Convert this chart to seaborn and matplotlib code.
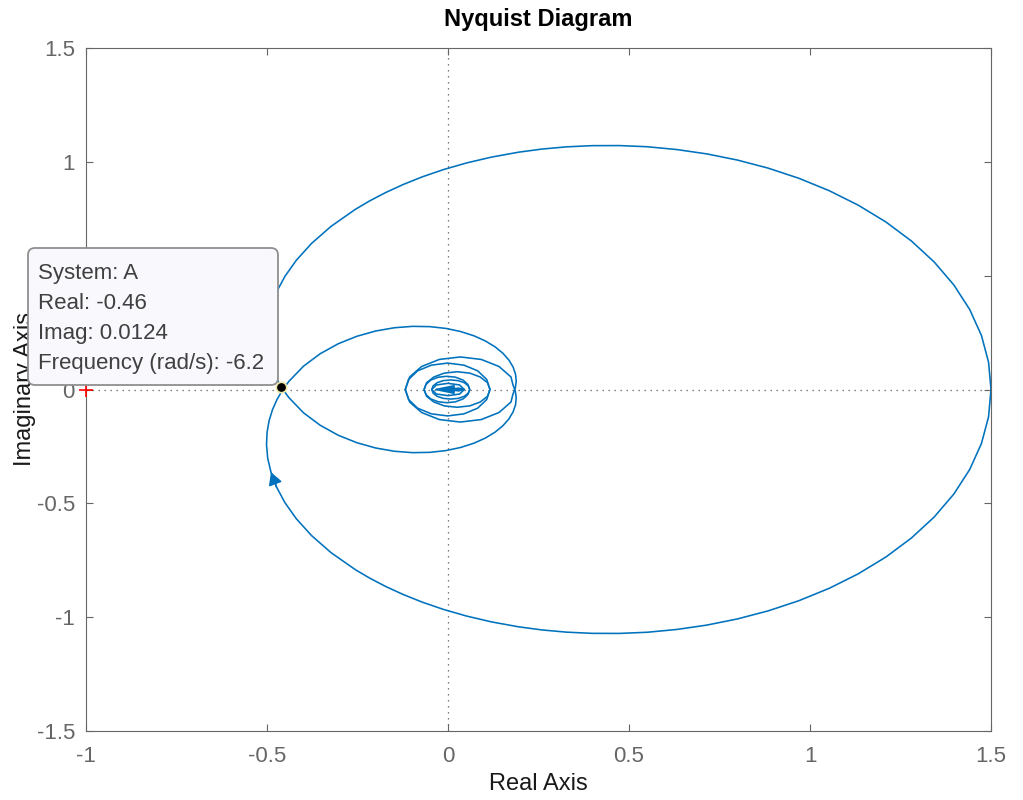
import matplotlib
matplotlib.use("Agg")
import matplotlib.pyplot as plt
import pandas as pd
import seaborn as sns
from matplotlib.patches import FancyBboxPatch

# Nyquist response of system A for positive frequencies (real, imaginary parts);
# the negative-frequency branch is its complex conjugate.
real_pos = [
    1.5000, 1.4933, 1.4736, 1.4413, 1.3974, 1.3432, 1.2800, 1.2095, 1.1331, 1.0525,
    0.9691, 0.8843, 0.7991, 0.7147, 0.6319, 0.5504, 0.4734, 0.3987, 0.3273, 0.2596,
    0.1955, 0.1206, 0.0515, -0.0122, -0.0705, -0.1236, -0.1720, -0.2158, -0.2554,
    -0.3230, -0.3768, -0.4187, -0.4505,
    -0.4736, -0.4890, -0.4981, -0.5013, -0.4998, -0.4941, -0.4848, -0.4723, -0.4572,
    -0.4397, -0.3992, -0.3531, -0.3035, -0.2518, -0.1996, -0.1479, -0.0978, -0.0502,
    -0.0058, 0.0349, 0.0713, 0.1030, 0.1299, 0.1517, 0.1683, 0.1799, 0.1866, 0.1885,
    0.1859, 0.1793,
    # high-frequency loops around the origin
    0.174, 0.141, 0.092, 0.034, -0.024, -0.073, -0.106, -0.118,
    -0.109, -0.084, -0.046, -0.001, 0.044, 0.082, 0.107, 0.116,
    0.109, 0.089, 0.060, 0.025, -0.010, -0.039, -0.059, -0.066,
    -0.061, -0.048, -0.027, -0.003, 0.021, 0.042, 0.055, 0.060,
    0.056, 0.045, 0.028, 0.008, -0.013, -0.030, -0.041, -0.045,
    -0.032, 0.000, 0.032, 0.045, 0.030, 0.010,
]
imag_pos = [
    0.0000, -0.1197, -0.2373, -0.3510, -0.4591, -0.5599, -0.6525, -0.7360, -0.8098, -0.8737,
    -0.9278, -0.9724, -1.0079, -1.0349, -1.0540, -1.0663, -1.0714, -1.0711, -1.0658, -1.0561,
    -1.0425, -1.0209, -0.9952, -0.9661, -0.9344, -0.9006, -0.8653, -0.8290, -0.7919,
    -0.7167, -0.6418, -0.5683, -0.4970,
    -0.4285, -0.3633, -0.3016, -0.2430, -0.1880, -0.1365, -0.0885, -0.0438, -0.0025,
    0.0354, 0.1023, 0.1571, 0.2007, 0.2337, 0.2570, 0.2713, 0.2774, 0.2761,
    0.2683, 0.2546, 0.2361, 0.2134, 0.1875, 0.1591, 0.1291, 0.0982, 0.0670, 0.0364,
    0.0068, -0.0211,
    -0.055, -0.101, -0.132, -0.143, -0.132, -0.101, -0.055, 0.000,
    0.044, 0.082, 0.107, 0.116, 0.107, 0.082, 0.044, 0.000,
    -0.030, -0.055, -0.072, -0.078, -0.072, -0.055, -0.030, 0.000,
    0.022, 0.041, 0.054, 0.058, 0.054, 0.041, 0.022, 0.000,
    -0.016, -0.030, -0.039, -0.042, -0.039, -0.030, -0.016, 0.000,
    0.020, 0.027, 0.020, 0.000, -0.006, -0.003,
]

# Direction arrows: (tail, tip) pairs on the curve
arrow_outer_tail = (-0.4736, -0.4285)
arrow_outer_tip = (-0.4890, -0.3633)
arrow_inner_tail = (0.040, 0.0)
arrow_inner_tip = (-0.044, 0.0)

# Data-tip readout
tip_system = "A"
tip_real = -0.46
tip_imag = 0.0124
tip_freq = -6.2

critical_point = (-1, 0)

x_ticks = [-1, -0.5, 0, 0.5, 1, 1.5]
x_ticklabels = ["-1", "-0.5", "0", "0.5", "1", "1.5"]
y_ticks = [-1.5, -1, -0.5, 0, 0.5, 1, 1.5]
y_ticklabels = ["-1.5", "-1", "-0.5", "0", "0.5", "1", "1.5"]

LINE = "#0072BD"
AXIS_GRAY = "#666666"

sns.set_theme(style="ticks")
plt.rcParams["font.family"] = ["Liberation Sans", "DejaVu Sans"]
plt.rcParams["axes.unicode_minus"] = False

fig = plt.figure(figsize=(10.23, 8.0), dpi=100)
ax = fig.add_axes([86 / 1023, 69 / 800, 905 / 1023, 683 / 800])

df = pd.concat([
    pd.DataFrame({"re": real_pos, "im": imag_pos, "branch": "pos"}),
    pd.DataFrame({"re": real_pos, "im": [-v for v in imag_pos], "branch": "neg"}),
], ignore_index=True)

# zero lines
ax.axhline(0, color=AXIS_GRAY, lw=0.9, ls=(0, (1.1, 3.7)), zorder=1)
ax.axvline(0, color=AXIS_GRAY, lw=0.9, ls=(0, (1.1, 3.7)), zorder=1)

sns.lineplot(data=df, x="re", y="im", units="branch", estimator=None, sort=False,
             color=LINE, lw=1.15, ax=ax, zorder=3)

# direction arrows
for tail, tip, hl, hw in [
    (arrow_outer_tail, arrow_outer_tip, 0.75, 0.42),
    (arrow_inner_tail, arrow_inner_tip, 1.3, 0.27),
]:
    ax.annotate("", xy=tip, xytext=tail,
                arrowprops=dict(arrowstyle=f"-|>,head_length={hl},head_width={hw}",
                                mutation_scale=10, color=LINE, lw=1.15,
                                shrinkA=0, shrinkB=0), zorder=4)

# critical point
ax.plot([critical_point[0]], [critical_point[1]], marker="+", color="red",
        ms=9.5, mew=1.2, clip_on=False, zorder=5)

ax.set_xlim(-1, 1.5)
ax.set_ylim(-1.5, 1.5)
ax.set_xticks(x_ticks)
ax.set_xticklabels(x_ticklabels)
ax.set_yticks(y_ticks)
ax.set_yticklabels(y_ticklabels)
ax.tick_params(direction="in", top=True, right=True, length=5, width=0.8,
               colors=AXIS_GRAY, labelsize=16, labelcolor=AXIS_GRAY)
ax.tick_params(axis="x", pad=11)
ax.tick_params(axis="y", pad=8)
for s in ax.spines.values():
    s.set_visible(True)
    s.set_color(AXIS_GRAY)
    s.set_linewidth(0.8)

ax.set_xlabel("Real Axis", fontsize=17, color="#1a1a1a")
ax.set_ylabel("Imaginary Axis", fontsize=17, color="#1a1a1a")
ax.xaxis.set_label_coords(0.5, -0.062)
ax.yaxis.set_label_coords(-0.0555, 0.5)
ax.set_title("Nyquist Diagram", fontsize=17, fontweight="bold", color="black", pad=16)

# data tip box (figure inches)
box_x0, box_x1 = 0.28, 2.78
box_y0, box_y1 = (800 - 385) / 100, (800 - 248) / 100
box = FancyBboxPatch((box_x0, box_y0), box_x1 - box_x0, box_y1 - box_y0,
                     boxstyle="round,pad=0,rounding_size=0.07",
                     transform=fig.dpi_scale_trans, facecolor="#f8f8fd",
                     edgecolor="#8f8f8f", lw=1.3, clip_on=False, zorder=10)
ax.add_patch(box)

tip_lines = [
    f"System: {tip_system}",
    f"Real: {tip_real:g}",
    f"Imag: {tip_imag:g}",
    f"Frequency (rad/s): {tip_freq:g}",
]
for i, line in enumerate(tip_lines):
    ax.text(0.38, (800 - 274 - 29.7 * i) / 100, line, transform=fig.dpi_scale_trans,
            fontsize=16, color="#404040", va="center", ha="left",
            clip_on=False, zorder=12)

ax.plot([tip_real], [tip_imag], marker="o", ms=7.5, mfc="black", mec="#eee8a8",
        mew=1.2, clip_on=False, zorder=11)

fig.savefig("out.png", dpi=100)
